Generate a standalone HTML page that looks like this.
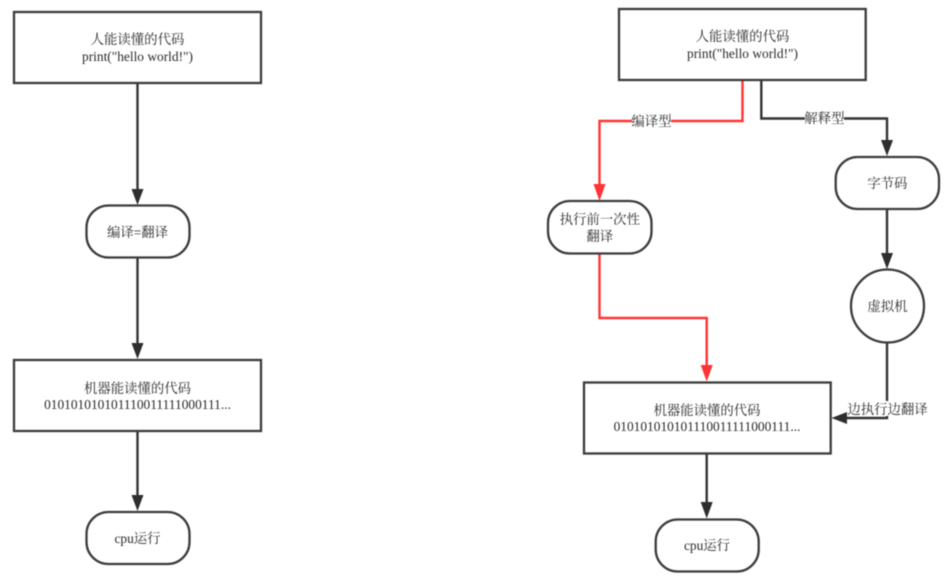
<!DOCTYPE html>
<html>
<head>
<meta charset="utf-8">
<style>
html,body{margin:0;padding:0;background:#fff;width:951px;height:582px;overflow:hidden}
svg{display:block;filter:blur(0.45px)}
text{font-family:"Liberation Serif","Noto Serif CJK SC",serif;font-size:13.4px;fill:#2a2a2a;text-anchor:middle}
.s{fill:#fff;stroke:#3c3c3c;stroke-width:2.3}
.l{fill:none;stroke:#333;stroke-width:2.4}
.r{fill:none;stroke:#f33;stroke-width:2.4}
.a{fill:#2e2e2e}
.ra{fill:#f33}
</style>
</head>
<body>
<svg width="951" height="582" viewBox="0 0 951 582" xmlns="http://www.w3.org/2000/svg">
<!-- Left connectors -->
<path class="l" d="M137.5 83V192"/>
<polygon class="a" points="131.5,189 143.5,189 137.5,205"/>
<path class="l" d="M137.5 258V346"/>
<polygon class="a" points="131.5,343 143.5,343 137.5,359"/>
<path class="l" d="M137.5 431V498"/>
<polygon class="a" points="131.5,495 143.5,495 137.5,511"/>
<!-- Left nodes -->
<rect class="s" x="14" y="12" width="247" height="71"/>
<text x="137.5" y="44">人能读懂的代码</text>
<text x="137.5" y="61">print("hello world!")</text>
<rect class="s" x="86.5" y="205.5" width="103" height="52" rx="22" ry="22"/>
<text x="137.5" y="237">编译=翻译</text>
<rect class="s" x="14" y="360" width="247" height="71"/>
<text x="137.5" y="393">机器能读懂的代码</text>
<text x="137.5" y="409">010101010101110011111000111...</text>
<rect class="s" x="86.5" y="512" width="103" height="52" rx="22" ry="22"/>
<text x="137.5" y="543">cpu运行</text>

<!-- Right connectors -->
<path class="r" d="M742.5 80V121H599.5V187"/>
<polygon class="ra" points="593.5,184 605.5,184 599.5,201"/>
<path class="r" d="M599.5 254V318H706.7V368"/>
<polygon class="ra" points="700.7,365 712.7,365 706.7,381.5"/>
<path class="l" d="M761.3 80V118.5H887V143"/>
<polygon class="a" points="881,140 893,140 887,156"/>
<path class="l" d="M887 209V256"/>
<polygon class="a" points="881,253 893,253 887,269"/>
<path class="l" d="M887 342V418H845"/>
<polygon class="a" points="847,412 847,424 831.5,418"/>
<path class="l" d="M706.7 454V505"/>
<polygon class="a" points="700.7,502 712.7,502 706.7,518.5"/>
<!-- Right nodes -->
<rect class="s" x="619" y="9" width="246.7" height="71"/>
<text x="742.5" y="41">人能读懂的代码</text>
<text x="742.5" y="58">print("hello world!")</text>
<rect class="s" x="548" y="201" width="103.5" height="52.5" rx="22" ry="22"/>
<text x="599.8" y="224">执行前一次性</text>
<text x="599.8" y="241">翻译</text>
<rect class="s" x="835.7" y="157" width="103.3" height="52" rx="22" ry="22"/>
<text x="887.3" y="188">字节码</text>
<circle class="s" cx="887.5" cy="306" r="36.5"/>
<text x="887.5" y="311">虚拟机</text>
<rect class="s" x="584" y="382.5" width="246.7" height="71"/>
<text x="707" y="415">机器能读懂的代码</text>
<text x="707" y="431">010101010101110011111000111...</text>
<rect class="s" x="655.7" y="519.5" width="103" height="52" rx="22" ry="22"/>
<text x="707" y="550">cpu运行</text>
<!-- Connector labels -->
<rect x="632" y="113" width="39" height="16" fill="#fff"/>
<text x="651.5" y="126">编译型</text>
<rect x="805" y="110" width="39" height="16" fill="#fff"/>
<text x="824.5" y="123">解释型</text>
<rect x="848" y="401" width="80" height="15" fill="#fff"/>
<text x="887.5" y="414">边执行边翻译</text>
</svg>
</body>
</html>
